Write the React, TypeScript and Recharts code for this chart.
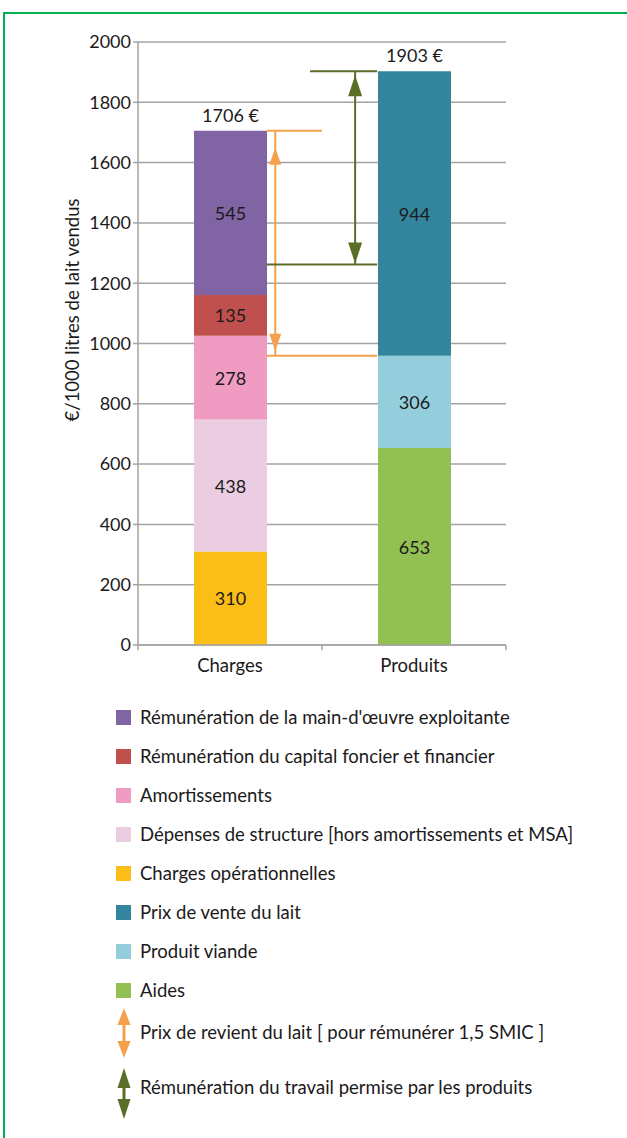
import React from 'react';
import {
  BarChart,
  Bar,
  XAxis,
  YAxis,
  CartesianGrid,
  ReferenceLine,
  ReferenceDot,
  LabelList,
} from 'recharts';

const FONT = 'Lato, "Open Sans", sans-serif';
const TEXT = '#1c1a1b';
const GRID = '#a3a3a3';
const ORANGE = '#f5a04b';
const OLIVE = '#5a6e28';

// ---- data ----
const categories = ['Charges', 'Produits'];
const chargeKeys = ['ope', 'struct', 'amort', 'capital', 'mo'];
const chargeValues = [310, 438, 278, 135, 545];
const produitKeys = ['aides', 'viande', 'lait'];
const produitValues = [653, 306, 944];
const totalLabels = ['1706 €', '1903 €'];
const yTicks = [0, 200, 400, 600, 800, 1000, 1200, 1400, 1600, 1800, 2000];
const prixRevientRange = [959, 1706];
const remunTravailRange = [1262, 1903];

const seriesKeys = ['ope', 'struct', 'amort', 'capital', 'mo', 'aides', 'viande', 'lait'];
const seriesNames: Record<string, string> = {
  mo: "Rémunération de la main-d'œuvre exploitante",
  capital: 'Rémunération du capital foncier et financier',
  amort: 'Amortissements',
  struct: 'Dépenses de structure [hors amortissements et MSA]',
  ope: 'Charges opérationnelles',
  lait: 'Prix de vente du lait',
  viande: 'Produit viande',
  aides: 'Aides',
};
const seriesColors: Record<string, string> = {
  mo: '#8064a4',
  capital: '#c0504d',
  amort: '#f09cc2',
  struct: '#ebcde2',
  ope: '#fbbd18',
  lait: '#32859c',
  viande: '#94cedd',
  aides: '#93c052',
};
const legendOrder = ['mo', 'capital', 'amort', 'struct', 'ope', 'lait', 'viande', 'aides'];
const arrowLegend = [
  { label: 'Prix de revient du lait [ pour rémunérer 1,5 SMIC ]', color: ORANGE },
  { label: 'Rémunération du travail permise par les produits', color: OLIVE },
];

const rowCharges: Record<string, any> = { cat: categories[0], total: totalLabels[0] };
chargeKeys.forEach((k, i) => (rowCharges[k] = chargeValues[i]));
const rowProduits: Record<string, any> = { cat: categories[1], total: totalLabels[1] };
produitKeys.forEach((k, i) => (rowProduits[k] = produitValues[i]));
const data = [rowCharges, rowProduits];

const topKeys = [chargeKeys[chargeKeys.length - 1], produitKeys[produitKeys.length - 1]];

// horizontal positions on a hidden 0..1 axis spanning the plot width
const P = {
  chargesRight: 0.35,
  produitsLeft: 0.65,
  orangeX: 0.373,
  orangeTopEnd: 0.5,
  oliveTopStart: 0.4675,
  oliveX: 0.59,
};

const segLabel = (props: any) => {
  const { x, y, width, height, value } = props;
  if (value === undefined || value === null || !height) return null;
  return (
    <text
      x={x + width / 2}
      y={y + height / 2}
      textAnchor="middle"
      dominantBaseline="central"
      fontFamily={FONT}
      fontSize={18}
      fill={TEXT}
    >
      {value}
    </text>
  );
};

const totalLabel = (props: any) => {
  const { x, y, width, height, value } = props;
  if (value === undefined || value === null || !height) return null;
  return (
    <text
      x={x + width / 2}
      y={y - 16}
      textAnchor="middle"
      dominantBaseline="central"
      fontFamily={FONT}
      fontSize={18}
      fill={TEXT}
    >
      {value}
    </text>
  );
};

const arrowHead = (dir: 'up' | 'down', offset: number, len: number, half: number, color: string) =>
  (p: any) => {
    const { cx, cy } = p;
    if (cx == null || cy == null) return <g />;
    const tip = cy + offset;
    const base = dir === 'up' ? tip + len : tip - len;
    return (
      <polygon
        points={`${cx},${tip} ${cx - half},${base} ${cx + half},${base}`}
        fill={color}
      />
    );
  };

const DoubleArrow = ({ color, top, height, half, head, cx }: any) => (
  <svg
    width={30}
    height={height + 4}
    style={{ position: 'absolute', left: cx - 15, top: top - 2 }}
  >
    <polygon points={`15,2 ${15 - half},${2 + head} ${15 + half},${2 + head}`} fill={color} />
    <rect x={13.5} y={2 + head - 1} width={3} height={height - 2 * head + 2} fill={color} />
    <polygon
      points={`15,${2 + height} ${15 - half},${2 + height - head} ${15 + half},${2 + height - head}`}
      fill={color}
    />
  </svg>
);

const Seg = ({ x1, y1, x2, y2, color, w = 2 }: any) => (
  <ReferenceLine
    xAxisId="pos"
    ifOverflow="visible"
    stroke={color}
    strokeWidth={w}
    segment={[
      { x: x1, y: y1 },
      { x: x2, y: y2 },
    ]}
  />
);

export default function App() {
  const legendRowsY = [717, 756, 795, 834, 873, 912, 951, 990];
  return (
    <div
      style={{
        position: 'absolute',
        left: 0,
        top: 0,
        width: 627,
        height: 1138,
        overflow: 'hidden',
        background: '#fff',
        fontFamily: FONT,
      }}
    >
      <div
        style={{
          position: 'absolute',
          left: 3,
          top: 12,
          width: 660,
          height: 1160,
          border: '2px solid #00b04f',
          boxSizing: 'border-box',
        }}
      />
      <div
        style={{
          position: 'absolute',
          left: 72,
          top: 310,
          transform: 'translate(-50%, -50%) rotate(-90deg)',
          whiteSpace: 'nowrap',
          fontSize: 18.5,
          lineHeight: '20px',
          color: TEXT,
        }}
      >
        €/1000 litres de lait vendus
      </div>
      <div style={{ position: 'absolute', left: 0, top: 0 }}>
        <BarChart
          width={627}
          height={1138}
          data={data}
          margin={{ top: 42, right: 121, bottom: 463, left: 78 }}
          barSize={73}
        >
          <CartesianGrid
            vertical={false}
            stroke={GRID}
            strokeWidth={1.5}
            xAxisId="cat"
          />
          <XAxis
            xAxisId="cat"
            dataKey="cat"
            height={30}
            axisLine={{ stroke: GRID, strokeWidth: 1.5 }}
            tickLine={false}
            tickSize={0}
            tickMargin={14}
            tick={{ fontFamily: FONT, fontSize: 18.5, fill: TEXT }}
          />
          <XAxis xAxisId="pos" type="number" domain={[0, 1]} hide allowDataOverflow />
          <YAxis
            domain={[0, 2000]}
            ticks={yTicks}
            width={60}
            interval={0}
            axisLine={{ stroke: GRID, strokeWidth: 1.5 }}
            tickLine={{ stroke: GRID, strokeWidth: 1.5 }}
            tickSize={5}
            tickMargin={2}
            tick={{ fontFamily: FONT, fontSize: 18, fill: TEXT }}
          />
          {seriesKeys.map((k) => (
            <Bar
              key={k}
              xAxisId="cat"
              dataKey={k}
              stackId="a"
              fill={seriesColors[k]}
              isAnimationActive={false}
            >
              <LabelList dataKey={k} content={segLabel} />
              {topKeys.includes(k) ? <LabelList dataKey="total" content={totalLabel} /> : null}
            </Bar>
          ))}
          {[0, 0.5, 1].map((t) => (
            <ReferenceLine
              key={'tick' + t}
              xAxisId="pos"
              ifOverflow="visible"
              stroke={GRID}
              strokeWidth={1.5}
              segment={[
                { x: t, y: 0 },
                { x: t, y: -17 },
              ]}
            />
          ))}
          {/* Orange: prix de revient */}
          <ReferenceLine
            xAxisId="pos"
            ifOverflow="visible"
            stroke={ORANGE}
            strokeWidth={2}
            segment={[
              { x: P.chargesRight, y: prixRevientRange[1] },
              { x: P.orangeTopEnd, y: prixRevientRange[1] },
            ]}
          />
          <ReferenceLine
            xAxisId="pos"
            ifOverflow="visible"
            stroke={ORANGE}
            strokeWidth={2}
            segment={[
              { x: P.orangeX, y: prixRevientRange[1] },
              { x: P.orangeX, y: prixRevientRange[0] },
            ]}
          />
          <ReferenceLine
            xAxisId="pos"
            ifOverflow="visible"
            stroke={ORANGE}
            strokeWidth={2}
            segment={[
              { x: P.chargesRight, y: prixRevientRange[0] },
              { x: P.produitsLeft, y: prixRevientRange[0] },
            ]}
          />
          <ReferenceDot
            xAxisId="pos"
            x={P.orangeX}
            y={prixRevientRange[1]}
            ifOverflow="visible"
            shape={arrowHead('up', 17, 17, 6, ORANGE)}
          />
          <ReferenceDot
            xAxisId="pos"
            x={P.orangeX}
            y={prixRevientRange[0]}
            ifOverflow="visible"
            shape={arrowHead('down', -5, 17, 6, ORANGE)}
          />
          {/* Olive: rémunération du travail */}
          <ReferenceLine
            xAxisId="pos"
            ifOverflow="visible"
            stroke={OLIVE}
            strokeWidth={2}
            segment={[
              { x: P.oliveTopStart, y: remunTravailRange[1] },
              { x: P.produitsLeft, y: remunTravailRange[1] },
            ]}
          />
          <ReferenceLine
            xAxisId="pos"
            ifOverflow="visible"
            stroke={OLIVE}
            strokeWidth={2}
            segment={[
              { x: P.oliveX, y: remunTravailRange[1] },
              { x: P.oliveX, y: remunTravailRange[0] },
            ]}
          />
          <ReferenceLine
            xAxisId="pos"
            ifOverflow="visible"
            stroke={OLIVE}
            strokeWidth={2}
            segment={[
              { x: P.chargesRight, y: remunTravailRange[0] },
              { x: P.produitsLeft, y: remunTravailRange[0] },
            ]}
          />
          <ReferenceDot
            xAxisId="pos"
            x={P.oliveX}
            y={remunTravailRange[1]}
            ifOverflow="visible"
            shape={arrowHead('up', 4, 21, 7, OLIVE)}
          />
          <ReferenceDot
            xAxisId="pos"
            x={P.oliveX}
            y={remunTravailRange[0]}
            ifOverflow="visible"
            shape={arrowHead('down', -1, 21, 7, OLIVE)}
          />
        </BarChart>
      </div>
      {legendOrder.map((k, i) => (
        <div
          key={k}
          style={{
            position: 'absolute',
            left: 116,
            top: legendRowsY[i] - 10,
            height: 20,
            display: 'flex',
            alignItems: 'center',
            whiteSpace: 'nowrap',
          }}
        >
          <div style={{ width: 15, height: 15, background: seriesColors[k], marginRight: 9 }} />
          <span style={{ fontSize: 18.5, color: TEXT, lineHeight: '20px' }}>{seriesNames[k]}</span>
        </div>
      ))}
      <DoubleArrow cx={124} color={arrowLegend[0].color} top={1008} height={50} half={6.5} head={17} />
      <DoubleArrow cx={124} color={arrowLegend[1].color} top={1068} height={51} half={6.5} head={20} />
      {arrowLegend.map((a, i) => (
        <div
          key={a.label}
          style={{
            position: 'absolute',
            left: 140,
            top: [1032, 1087][i] - 10,
            height: 20,
            lineHeight: '20px',
            fontSize: 18.5,
            color: TEXT,
            whiteSpace: 'nowrap',
          }}
        >
          {a.label}
        </div>
      ))}
    </div>
  );
}
